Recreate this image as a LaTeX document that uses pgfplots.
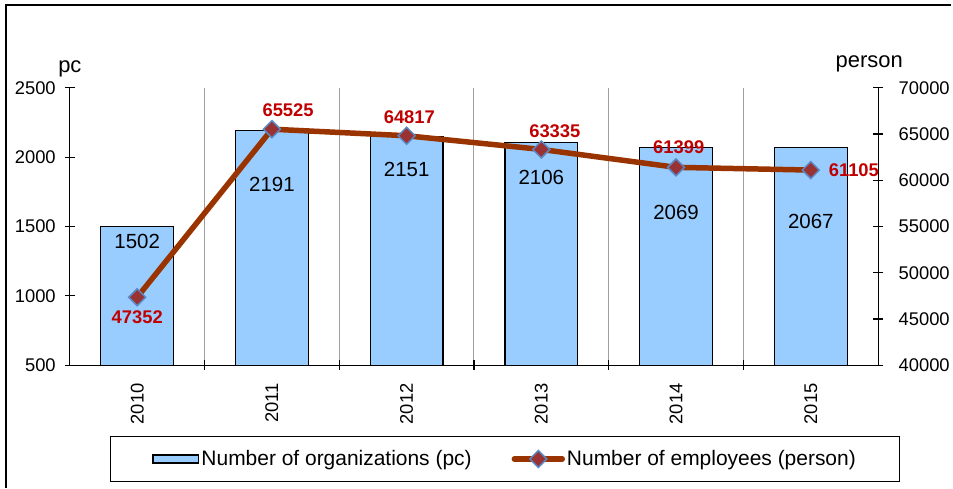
\documentclass[border=0pt]{standalone}
\usepackage{pgfplots}
\pgfplotsset{compat=1.18}
\usepackage{fontspec}
\setmainfont{Liberation Sans}
\definecolor{barblue}{HTML}{99CCFF}
\definecolor{linebrown}{HTML}{993300}
\definecolor{mkfill}{HTML}{993333}
\definecolor{mkdraw}{HTML}{5B87C5}
\definecolor{lblred}{HTML}{C00000}
\definecolor{gridgray}{HTML}{A0A0A0}
\newcommand{\tickfont}{\fontsize{18.4}{21}\selectfont}
\begin{document}
\begin{tikzpicture}
\begin{axis}[
  scale only axis,
  width=810pt, height=278pt,
  xmin=-0.5, xmax=5.5, ymin=500, ymax=2500,
  axis x line*=bottom, axis y line*=left,
  axis line style={line width=1.2pt},
  ytick={500,1000,...,2500},
  xtick={0,...,5},
  xticklabels={2010,2011,2012,2013,2014,2015},
  xticklabel style={rotate=90, anchor=east, inner xsep=13pt},
  yticklabel style={inner xsep=9pt},
  major x tick style={draw=none},
  minor xtick={0.5,1.5,2.5,3.5,4.5},
  xminorgrids,
  minor x grid style={gridgray, line width=1pt},
  tick align=center,
  major tick length=10pt, minor tick length=10pt,
  tick style={black, line width=1.2pt},
  ticklabel style={font=\tickfont},
  /pgf/number format/assume math mode=true,
  /pgf/number format/1000 sep={},
  clip=false,
]
\coordinate (O) at (rel axis cs:0,0);
\addplot[ybar, bar width=73pt, fill=barblue, draw=black, line width=1.2pt]
  coordinates {(0,1502) (1,2191) (2,2151) (3,2106) (4,2069) (5,2067)};
\addplot[draw=none, mark=none, forget plot, nodes near coords,
  point meta=explicit symbolic,
  every node near coord/.style={font=\fontsize{20.5}{23}\selectfont, anchor=center, black}]
  table[meta=l] {
x y l
0 1392 1502
1 1802 2191
2 1910 2151
3 1852 2106
4 1601 2069
5 1536 2067
};
\end{axis}
\begin{axis}[
  scale only axis,
  width=810pt, height=278pt,
  xmin=-0.5, xmax=5.5, ymin=40000, ymax=70000,
  axis x line=none, axis y line*=right,
  axis line style={line width=1.2pt},
  ytick={40000,45000,...,70000},
  yticklabel shift=12pt,
  scaled y ticks=false,
  tick align=center, major tick length=10pt,
  tick style={black, line width=1.2pt},
  ticklabel style={font=\tickfont},
  /pgf/number format/assume math mode=true,
  /pgf/number format/1000 sep={},
  clip=false,
  legend columns=2,
  legend style={at={(0.5385,-0.338)}, anchor=center, draw=black, line width=1.2pt,
    font=\fontsize{21}{24}\selectfont, inner xsep=42pt, inner ysep=12pt,
    /tikz/every even column/.append style={column sep=38pt},
    nodes={inner sep=2pt}},
]
\addlegendimage{legend image code/.code={\draw[fill=barblue,draw=black,line width=1.2pt] (0pt,-4pt) rectangle (46pt,4pt);}}
\addlegendentry{Number of organizations (pc)}
\addplot[color=linebrown, line width=5.5pt, mark=square*,
  mark size=6pt,
  mark options={rotate=45, fill=mkfill, draw=mkdraw, line width=1.5pt},
  legend image code/.code={\draw[mark repeat=2, mark phase=2, linebrown, line width=5.5pt, line cap=round, mark=square*, mark size=6pt, mark options={rotate=45, fill=mkfill, draw=mkdraw, line width=1.5pt}] plot coordinates {(0pt,0pt) (24pt,0pt) (48pt,0pt)};}]
  coordinates {(0,47352) (1,65525) (2,64817) (3,63335) (4,61399) (5,61105)};
\addlegendentry{Number of employees (person)}
\addplot[draw=none, mark=none, forget plot, nodes near coords,
  point meta=explicit symbolic,
  every node near coord/.style={font=\fontsize{18.4}{21}\selectfont\bfseries, anchor=center, text=lblred}]
  table[meta=l] {
x y l
0 45180 47352
1.12 67626 65525
2.02 66871 64817
3.1 65360 63335
4.02 63525 61399
5.32 61043 61105
};
\end{axis}
\node[anchor=base, font=\fontsize{22}{25}\selectfont] at ([shift={(0pt,293pt)}]O) {pc};
\node[anchor=base, font=\fontsize{22}{25}\selectfont] at ([shift={(801pt,298pt)}]O) {person};
\draw[line width=1.5pt] ([shift={(-64pt,-123pt)}]O) -- ([shift={(-64pt,361pt)}]O) -- ([shift={(883pt,361pt)}]O);
\useasboundingbox ([shift={(-70pt,-123pt)}]O) rectangle ([shift={(883pt,366pt)}]O);
\end{tikzpicture}
\end{document}
